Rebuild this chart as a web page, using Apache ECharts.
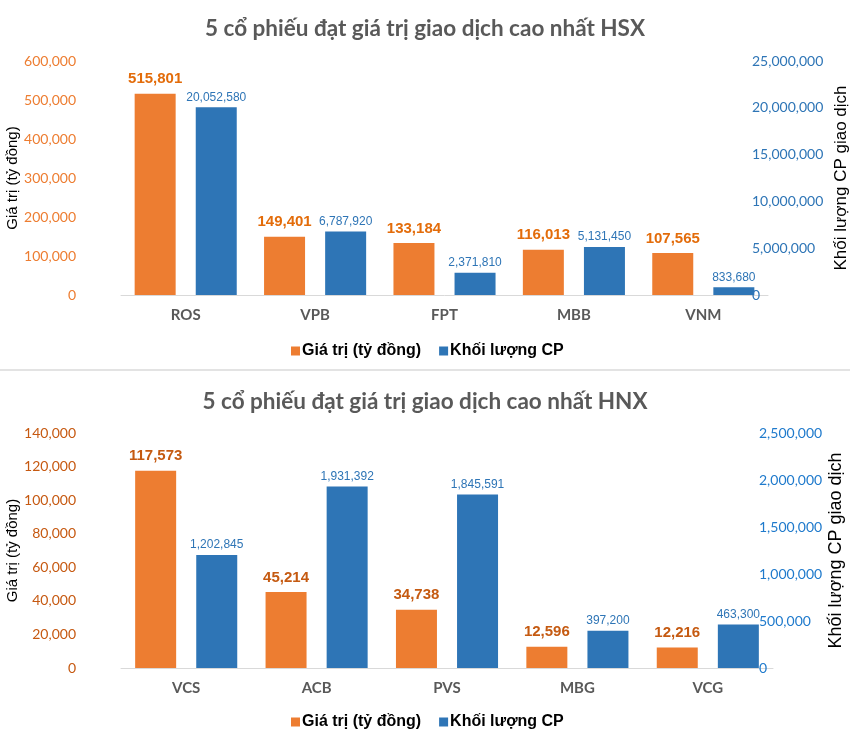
<!DOCTYPE html>
<html>
<head>
<meta charset="utf-8">
<script src="https://cdn.jsdelivr.net/npm/echarts@6/dist/echarts.min.js"></script>
<style>
html,body{margin:0;padding:0;background:#fff;}
#c{width:850px;height:745px;}
</style>
</head>
<body>
<div id="c"></div>
<script>
// ---- Data ----
const titleHSX = '5 cổ phiếu đạt giá trị giao dịch cao nhất HSX';
const titleHNX = '5 cổ phiếu đạt giá trị giao dịch cao nhất HNX';
const seriesNames = ['Giá trị (tỷ đồng)', 'Khối lượng CP'];
const leftAxisName = 'Giá trị (tỷ đồng)';
const rightAxisName = 'Khối lượng CP giao dịch';

const catsHSX = ['ROS', 'VPB', 'FPT', 'MBB', 'VNM'];
const valueHSX = [515801, 149401, 133184, 116013, 107565];
const volumeHSX = [20052580, 6787920, 2371810, 5131450, 833680];

const catsHNX = ['VCS', 'ACB', 'PVS', 'MBG', 'VCG'];
const valueHNX = [117573, 45214, 34738, 12596, 12216];
const volumeHNX = [1202845, 1931392, 1845591, 397200, 463300];

// axis scales
const leftHSX = {min: 0, max: 600000, interval: 100000};
const rightHSX = {min: 0, max: 25000000, interval: 5000000};
const leftHNX = {min: 0, max: 140000, interval: 20000};
const rightHNX = {min: 0, max: 2500000, interval: 500000};

// ---- Styles ----
const ORANGE = '#ED7D31';
const BLUE = '#2E75B6';
const fmt = v => Number(v).toLocaleString('en-US');
const calibri = 'Lato, "Open Sans", sans-serif';
const narrow = '"Liberation Sans Narrow", "Liberation Sans", Arial, sans-serif';

function yAxisLeft(grid, sc, color) {
  return {
    type: 'value', gridIndex: grid, position: 'left',
    min: sc.min, max: sc.max, interval: sc.interval,
    name: leftAxisName, nameLocation: 'middle', nameRotate: 90, nameGap: 101, nameMoveOverlap: false,
    nameTextStyle: {color: '#000', fontSize: 15, fontFamily: '"Liberation Sans", Arial, sans-serif'},
    axisLine: {show: false}, axisTick: {show: false}, splitLine: {show: false},
    axisLabel: {color: color, fontSize: 14, fontFamily: calibri, margin: 45, formatter: fmt}
  };
}
function yAxisRight(grid, sc, color, margin, nameSize, nameGap) {
  return {
    type: 'value', gridIndex: grid, position: 'right',
    min: sc.min, max: sc.max, interval: sc.interval,
    name: rightAxisName, nameLocation: 'middle', nameRotate: 90, nameGap: nameGap, nameMoveOverlap: false,
    nameTextStyle: {color: '#000', fontSize: nameSize, fontFamily: '"Liberation Sans", Arial, sans-serif'},
    axisLine: {show: false}, axisTick: {show: false}, splitLine: {show: false},
    axisLabel: {color: color, fontSize: 14, fontFamily: calibri, margin: margin, formatter: fmt}
  };
}
function xAxis(grid, cats) {
  return {
    type: 'category', gridIndex: grid, data: cats,
    axisLine: {show: true, lineStyle: {color: '#D9D9D9', width: 1}},
    axisTick: {show: false},
    axisLabel: {color: '#595959', fontSize: 15, fontWeight: 'bold', fontFamily: calibri, margin: 13}
  };
}
function barValue(x, y, data, labelColor) {
  return {
    name: seriesNames[0], type: 'bar', xAxisIndex: x, yAxisIndex: y, data: data,
    barWidth: 41, barGap: '49%',
    itemStyle: {color: ORANGE},
    label: {show: true, position: 'top', distance: 7, color: labelColor, fontWeight: 'bold',
      fontSize: 15, fontFamily: narrow, formatter: p => fmt(p.value)}
  };
}
function barVolume(x, y, data) {
  return {
    name: seriesNames[1], type: 'bar', xAxisIndex: x, yAxisIndex: y, data: data,
    barWidth: 41, barGap: '49%',
    itemStyle: {color: BLUE},
    label: {show: true, position: 'top', distance: 4, color: BLUE,
      fontSize: 12, fontFamily: narrow, formatter: p => fmt(p.value)}
  };
}
function legend(top) {
  return {
    top: top, left: 286, itemWidth: 9, itemHeight: 9, itemGap: 18, icon: 'rect',
    data: seriesNames,
    textStyle: {color: '#000', fontSize: 16, fontWeight: 'bold', fontFamily: narrow, padding: [0, 0, 0, -3]}
  };
}

const chart = echarts.init(document.getElementById('c'), null, {renderer: 'canvas'});
chart.setOption({
  backgroundColor: '#fff',
  animation: false,
  title: [
    {text: titleHSX, left: 'center', top: 12, textStyle: {color: '#595959', fontSize: 22.5, fontWeight: 'bold', fontFamily: calibri}},
    {text: titleHNX, left: 'center', top: 385, textStyle: {color: '#595959', fontSize: 22.5, fontWeight: 'bold', fontFamily: calibri}}
  ],
  legend: [legend(338), legend(709)],
  grid: [
    {left: 121, width: 647, top: 61, height: 234, containLabel: false, outerBoundsMode: 'none'},
    {left: 121, width: 652, top: 433, height: 235, containLabel: false, outerBoundsMode: 'none'}
  ],
  xAxis: [xAxis(0, catsHSX), xAxis(1, catsHNX)],
  yAxis: [
    yAxisLeft(0, leftHSX, ORANGE),
    yAxisRight(0, rightHSX, BLUE, -16, 17, 65),
    yAxisLeft(1, leftHNX, '#C65911'),
    yAxisRight(1, rightHNX, '#1F7ACC', -14, 18, 54)
  ],
  series: [
    barValue(0, 0, valueHSX, '#E36C0A'),
    barVolume(0, 1, volumeHSX),
    barValue(1, 2, valueHNX, '#C55A11'),
    barVolume(1, 3, volumeHNX)
  ],
  graphic: [
    {type: 'rect', left: 0, top: 369, shape: {width: 850, height: 2}, style: {fill: '#E3E3E3'}, silent: true}
  ]
});
</script>
</body>
</html>
